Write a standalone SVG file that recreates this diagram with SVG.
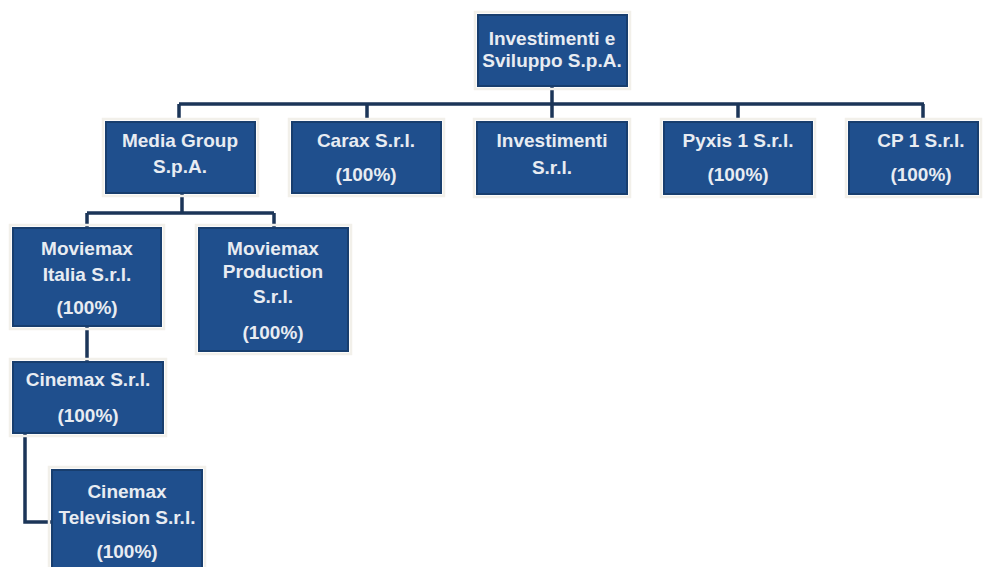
<svg xmlns="http://www.w3.org/2000/svg" width="985" height="567" viewBox="0 0 985 567">
<style>
.box{fill:#1f4f8d;stroke:#183e6e;stroke-width:2}
.halo{fill:none;stroke:#f2f0ea;stroke-width:2.5}
.t{font-family:"Liberation Sans",Arial,sans-serif;font-size:19px;font-weight:bold;fill:#e8ecf2;text-anchor:middle}
.c{fill:none;stroke:#1b3558;stroke-width:3.5}
</style>
<rect width="985" height="567" fill="#ffffff"/>
<g id="connectors">
<path class="c" d="M552 86V104M179 104H924M179 104V120M367 104V120M552 104V120M738 104V120M923 104V120"/>
<path class="c" d="M182 193V213M87 213H274M87 213V227M274 213V227"/>
<path class="c" d="M87 326V362"/>
<path class="c" d="M25 433V522H52"/>
</g>
<g id="n0"><rect class="halo" x="475" y="12" width="155" height="77"/><rect class="box" x="478" y="15" width="149" height="71"/><text class="t" x="552" y="45">Investimenti e</text><text class="t" x="552" y="67">Sviluppo S.p.A.</text></g>
<g id="n1"><rect class="halo" x="103" y="119" width="155" height="77"/><rect class="box" x="106" y="122" width="149" height="71"/><text class="t" x="180" y="147">Media Group</text><text class="t" x="180" y="173">S.p.A.</text></g>
<g id="n2"><rect class="halo" x="289" y="119" width="155" height="77"/><rect class="box" x="292" y="122" width="149" height="71"/><text class="t" x="366" y="147">Carax S.r.l.</text><text class="t" x="366" y="181">(100%)</text></g>
<g id="n3"><rect class="halo" x="474" y="119" width="156" height="78"/><rect class="box" x="477" y="122" width="150" height="72"/><text class="t" x="552" y="147">Investimenti</text><text class="t" x="552" y="174">S.r.l.</text></g>
<g id="n4"><rect class="halo" x="661" y="119" width="154" height="78"/><rect class="box" x="664" y="122" width="148" height="72"/><text class="t" x="738" y="147">Pyxis 1 S.r.l.</text><text class="t" x="738" y="181">(100%)</text></g>
<g id="n5"><rect class="halo" x="846" y="119" width="135" height="78"/><rect class="box" x="849" y="122" width="129" height="72"/><text class="t" x="921" y="147">CP 1 S.r.l.</text><text class="t" x="921" y="181">(100%)</text></g>
<g id="n6"><rect class="halo" x="10" y="225" width="154" height="104"/><rect class="box" x="13" y="228" width="148" height="98"/><text class="t" x="87" y="255">Moviemax</text><text class="t" x="87" y="281">Italia S.r.l.</text><text class="t" x="87" y="314">(100%)</text></g>
<g id="n7"><rect class="halo" x="196" y="225" width="155" height="129"/><rect class="box" x="199" y="228" width="149" height="123"/><text class="t" x="273" y="255">Moviemax</text><text class="t" x="273" y="278">Production</text><text class="t" x="273" y="303">S.r.l.</text><text class="t" x="273" y="339">(100%)</text></g>
<g id="n8"><rect class="halo" x="10" y="359" width="156" height="77"/><rect class="box" x="13" y="362" width="150" height="71"/><text class="t" x="88" y="386">Cinemax S.r.l.</text><text class="t" x="88" y="422">(100%)</text></g>
<g id="n9"><rect class="halo" x="49" y="467" width="156" height="110"/><rect class="box" x="52" y="470" width="150" height="104"/><text class="t" x="127" y="498">Cinemax</text><text class="t" x="127" y="524">Television S.r.l.</text><text class="t" x="127" y="558">(100%)</text></g>
</svg>
